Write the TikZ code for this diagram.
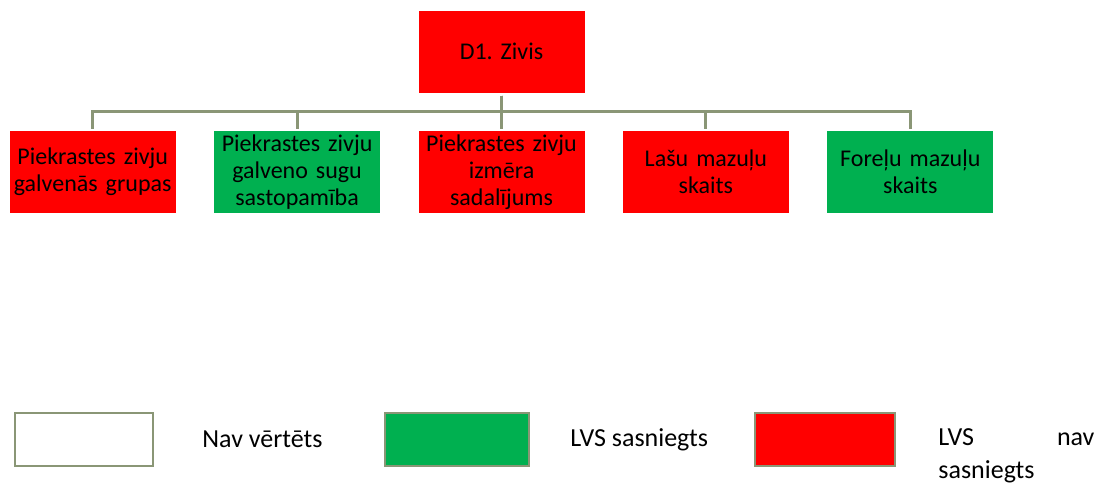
\documentclass[tikz,border=0pt]{standalone}
\usepackage{fontspec}
\setmainfont{Carlito}
\usepackage{xcolor}
\usepackage{tikz}
\usetikzlibrary{positioning}

\definecolor{fishred}{RGB}{255,0,0}
\definecolor{fishgreen}{RGB}{0,176,80}
\definecolor{treeline}{RGB}{138,150,118}
\frenchspacing

\begin{document}
\begin{tikzpicture}[x=1pt, y=1pt, redbox/.style={rectangle, fill=fishred, minimum width=166pt, minimum height=82pt, text width=162pt, align=center, inner sep=0pt}, greenbox/.style={redbox, fill=fishgreen}, legbox/.style={rectangle, draw=treeline, line width=2.5pt, minimum width=138pt, minimum height=53pt}, legtext/.style={inner sep=0pt, align=left, font=\fontsize{26}{33}\selectfont}, link/.style={draw=treeline, line width=3pt, shorten <=3pt, shorten >=2pt}]

\tikzstyle{every node}=[font=\fontsize{24}{27}\selectfont]

\useasboundingbox (0,0) rectangle (1096,-488);

%Nodes
\node[redbox]      (zivis)   at (501.5,-51.5) {D1. Zivis};
\node[redbox]      (izmera)  [below=38pt of zivis] {Piekrastes zivju\\ izmēra\\ sadalījums};
\node[greenbox]    (sugas)   [left=38pt of izmera] {Piekrastes zivju\\ galveno sugu\\ sastopamība};
\node[redbox]      (grupas)  [left=38pt of sugas] {Piekrastes zivju\\ galvenās grupas};
\node[redbox]      (lasi)    [right=38pt of izmera] {Lašu mazuļu\\ skaits};
\node[greenbox]    (foreles) [right=38pt of lasi] {Foreļu mazuļu\\ skaits};

%Legend
\node[legbox, fill=white]                          (navleg)  at (84,-439.5) {};
\node[legbox, fill=fishgreen, minimum width=144pt] (irleg)   at (457,-439.5) {};
\node[legbox, fill=fishred, minimum width=140pt]   (nevleg)  at (825,-439.5) {};
\node[legtext]     (navtxt)  [right=48pt of navleg] {Nav vērtēts};
\node[legtext]     (irtxt)   [right=40pt of irleg] {LVS sasniegts};
\node[legtext, text width=156pt, yshift=-16.5pt] (nevtxt) [right=42pt of nevleg] {LVS\hfill nav\\sasniegts};

%Lines
\draw[link] (zivis.south) -- ++(0,-19) -| (grupas.north);
\draw[link] (zivis.south) -- ++(0,-19) -| (sugas.north);
\draw[link] (zivis.south) -- ++(0,-19) -| (izmera.north);
\draw[link] (zivis.south) -- ++(0,-19) -| (lasi.north);
\draw[link] (zivis.south) -- ++(0,-19) -| (foreles.north);

\end{tikzpicture}
\end{document}
